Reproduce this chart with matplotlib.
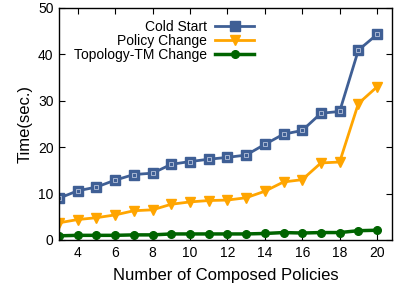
import numpy as np
import matplotlib
matplotlib.use("Agg")
import matplotlib.pyplot as plt

plt.rcParams['font.family'] = ['Liberation Sans', 'DejaVu Sans']

# composed policies on the x axis
policies = list(range(3, 21))

cold_start = [9.0, 10.6, 11.4, 12.9, 14.1, 14.4, 16.3, 16.9, 17.4, 17.8, 18.3,
              20.6, 22.8, 23.6, 27.3, 27.7, 40.9, 44.3]
policy_change = [3.7, 4.4, 4.8, 5.4, 6.3, 6.5, 7.7, 8.2, 8.5, 8.6, 9.1,
                 10.5, 12.5, 13.0, 16.6, 16.8, 29.4, 33.0]
topo_change = [0.9, 1.0, 1.0, 1.0, 1.1, 1.1, 1.3, 1.3, 1.3, 1.3, 1.3,
               1.4, 1.6, 1.5, 1.6, 1.6, 2.0, 2.1]

xticks = [4, 6, 8, 10, 12, 14, 16, 18, 20]
yticks = [0, 10, 20, 30, 40, 50]

blue = '#3f5f95'
orange = '#ffa500'
green = '#006400'

fig = plt.figure(figsize=(3.96, 2.84), dpi=100)
ax = fig.add_axes([0.149, 0.155, 0.841, 0.817])

ax.plot(policies, cold_start, color=blue, lw=2, marker='s', ms=6.5,
        mfc=blue, mec=blue, label='Cold Start')
# light inner square of gnuplot's box marker
ax.plot(policies, cold_start, ls='none', marker='s', ms=2.2,
        mfc='none', mec='#b8c4dc', mew=0.6)
ax.plot(policies, policy_change, color=orange, lw=2, marker='v', ms=7.5,
        mfc=orange, mec=orange, label='Policy Change')
ax.plot(policies, topo_change, color=green, lw=2.5, marker='o', ms=5.5,
        mfc=green, mec=green, label='Topology-TM Change')

ax.set_xlim(3, 20.8)
ax.set_ylim(0, 50)
ax.set_xticks(xticks)
ax.set_yticks(yticks)
ax.tick_params(direction='in', top=True, right=True, length=4, width=0.8,
               labelsize=10, pad=4)
for s in ax.spines.values():
    s.set_linewidth(1.0)

ax.set_xlabel('Number of Composed Policies', fontsize=12, labelpad=6)
ax.set_ylabel('Time(sec.)', fontsize=12, labelpad=4)

ax.legend(loc='upper left', bbox_to_anchor=(0.02, 0.985), frameon=False,
          markerfirst=False, fontsize=10, handlelength=2.8,
          labelspacing=0.0, borderaxespad=0.2, handletextpad=0.6)

fig.savefig('out.png', dpi=100)
